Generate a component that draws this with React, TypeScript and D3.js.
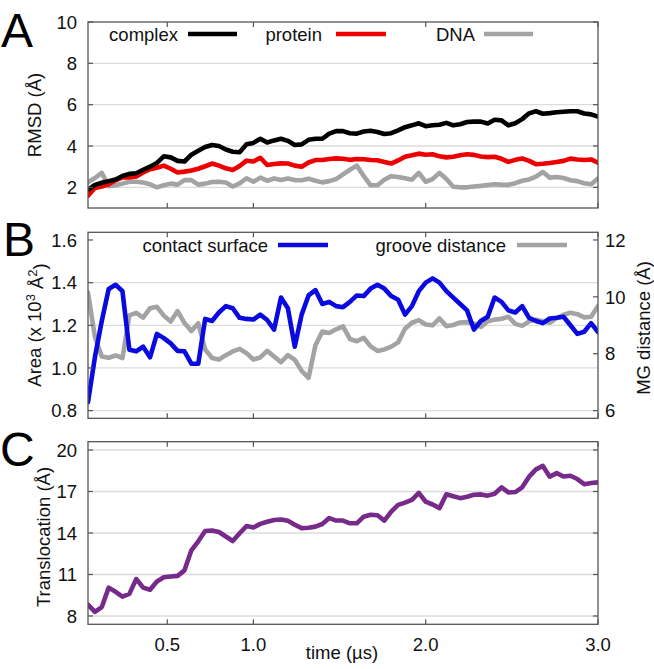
import React from 'react';
import * as d3 from 'd3';

const times = [0.04,0.08,0.12,0.16,0.20,0.24,0.28,0.32,0.36,0.40,0.44,0.48,0.52,0.56,0.60,0.64,0.68,0.72,0.76,0.80,0.84,0.88,0.92,0.96,1.00,1.04,1.08,1.12,1.16,1.20,1.24,1.28,1.32,1.36,1.40,1.44,1.48,1.52,1.56,1.60,1.64,1.68,1.72,1.76,1.80,1.84,1.88,1.92,1.96,2.00,2.04,2.08,2.12,2.16,2.20,2.24,2.28,2.32,2.36,2.40,2.44,2.48,2.52,2.56,2.60,2.64,2.68,2.72,2.76,2.80,2.84,2.88,2.92,2.96,3.00];

const complexRmsd = [1.88,2.12,2.22,2.30,2.38,2.55,2.65,2.68,2.85,3.00,3.18,3.50,3.45,3.28,3.25,3.58,3.77,3.95,4.05,4.00,3.83,3.72,3.70,4.08,4.15,4.35,4.17,4.27,4.35,4.25,4.05,4.08,4.30,4.35,4.35,4.60,4.72,4.72,
  4.62,4.60,4.70,4.74,4.68,4.58,4.62,4.76,4.91,5.00,5.10,4.96,5.00,5.03,5.12,5.00,5.05,5.16,5.18,5.18,5.09,5.27,5.24,5.00,5.10,5.30,5.58,5.68,5.56,5.59,5.63,5.66,5.68,5.68,5.57,5.53,5.42];
const proteinRmsd = [1.60,1.97,2.04,2.15,2.34,2.48,2.48,2.52,2.72,2.88,2.95,3.05,2.90,2.72,2.76,2.81,2.90,3.02,3.15,3.05,2.92,2.84,3.03,3.29,3.25,3.43,3.08,3.13,3.16,3.15,3.05,3.00,3.20,3.32,3.32,3.37,3.40,3.38,
  3.33,3.37,3.36,3.32,3.31,3.23,3.15,3.30,3.48,3.55,3.63,3.58,3.60,3.50,3.45,3.48,3.55,3.60,3.57,3.49,3.46,3.48,3.38,3.23,3.33,3.40,3.28,3.12,3.14,3.18,3.23,3.28,3.39,3.35,3.32,3.35,3.19];
const dnaRmsd = [2.25,2.45,2.70,2.05,2.10,2.18,2.27,2.27,2.23,2.15,2.00,2.10,2.18,2.13,2.35,2.35,2.13,2.18,2.26,2.27,2.23,2.04,2.19,2.44,2.27,2.47,2.32,2.43,2.36,2.43,2.35,2.34,2.42,2.32,2.24,2.30,2.40,2.63,
  2.85,3.05,2.55,2.10,2.10,2.37,2.54,2.50,2.44,2.37,2.70,2.27,2.40,2.70,2.40,2.03,2.00,2.00,2.04,2.07,2.11,2.15,2.13,2.12,2.20,2.32,2.38,2.52,2.74,2.47,2.50,2.45,2.34,2.30,2.20,2.15,2.42];

const contactSurface = [0.84,1.05,1.22,1.37,1.39,1.36,1.085,1.078,1.10,1.05,1.16,1.14,1.115,1.08,1.078,1.02,1.02,1.23,1.22,1.26,1.29,1.28,1.235,1.23,1.227,1.25,1.225,1.18,1.33,1.28,1.10,1.25,1.34,1.365,1.30,1.31,1.29,1.285,
  1.31,1.34,1.337,1.372,1.39,1.372,1.337,1.32,1.25,1.29,1.36,1.40,1.42,1.40,1.36,1.33,1.30,1.27,1.18,1.22,1.24,1.33,1.31,1.27,1.26,1.29,1.235,1.22,1.21,1.232,1.235,1.24,1.20,1.16,1.17,1.21,1.168];
const grooveDistance = [10.15,8.60,7.90,7.86,7.94,7.85,9.35,9.44,9.27,9.60,9.65,9.34,9.13,9.50,9.08,8.80,9.07,8.15,7.85,7.80,7.95,8.08,8.17,8.02,7.80,7.87,8.10,7.90,7.70,7.95,7.79,7.40,7.15,8.30,8.78,8.73,8.86,8.96,
  8.52,8.44,8.56,8.26,8.10,8.15,8.25,8.40,8.88,9.09,9.18,9.03,9.00,9.24,8.97,9.01,9.10,9.11,9.06,8.94,9.14,9.20,9.23,9.30,9.05,8.98,9.14,9.20,9.14,9.09,9.25,9.37,9.44,9.39,9.28,9.30,9.68];

const translocation = [8.82,8.30,8.65,10.05,9.75,9.40,9.60,10.67,10.05,9.90,10.50,10.80,10.86,10.90,11.30,12.75,13.40,14.14,14.18,14.07,13.75,13.42,13.98,14.50,14.40,14.66,14.81,14.94,14.98,14.88,14.60,14.35,14.38,14.46,14.65,15.08,14.90,14.90,
  14.70,14.70,15.18,15.32,15.28,14.90,15.55,16.03,16.20,16.40,16.90,16.26,16.06,15.80,16.80,16.66,16.52,16.62,16.76,16.79,16.70,16.84,17.30,16.93,16.96,17.30,18.07,18.60,18.85,18.07,18.33,18.08,18.14,17.90,17.53,17.61,17.66];

const xTicks = [0.5, 1.0, 2.0, 3.0];
const rmsdTicks = [2, 4, 6, 8, 10];
const areaTicks = [0.8, 1.0, 1.2, 1.4, 1.6];
const mgTicks = [6, 8, 10, 12];
const transTicks = [8, 11, 14, 17, 20];

const FONT = '"Liberation Sans", Arial, Helvetica, sans-serif';
const FS = 18.5;
const L = 88, R = 598;
const BORDER = '#555';
const GRID = '#dcdcdc';
const SW = 4.6;

const x = d3.scaleLinear().domain([0.04, 3.0]).range([L, R]);

type PanelProps = {
  top: number; bottom: number; id: string;
  y: d3.ScaleLinear<number, number>;
  ticks: number[]; fmt: (v: number) => string;
  grid: number[];
  y2?: d3.ScaleLinear<number, number>; ticks2?: number[];
  children?: React.ReactNode;
};

function Panel({ top, bottom, id, y, ticks, fmt, grid, y2, ticks2, children }: PanelProps) {
  const tl = 5;
  return (
    <g>
      <defs>
        <clipPath id={id}><rect x={L} y={top} width={R - L} height={bottom - top} /></clipPath>
      </defs>
      {grid.map((v) => (
        <line key={'g' + v} x1={L} x2={R} y1={y(v)} y2={y(v)} stroke={GRID} strokeWidth={1.3} />
      ))}
      <g clipPath={`url(#${id})`}>{children}</g>
      <rect x={L} y={top} width={R - L} height={bottom - top} fill="none" stroke={BORDER} strokeWidth={1.3} />
      {ticks.map((v) => (
        <g key={'t' + v}>
          <line x1={L} x2={L + tl} y1={y(v)} y2={y(v)} stroke={BORDER} strokeWidth={1.2} />
          {!y2 && <line x1={R} x2={R - tl} y1={y(v)} y2={y(v)} stroke={BORDER} strokeWidth={1.2} />}
          <text x={77} y={y(v)} dy="0.36em" textAnchor="end" fontSize={FS} fill="#111">{fmt(v)}</text>
        </g>
      ))}
      {y2 && ticks2 && ticks2.map((v) => (
        <g key={'r' + v}>
          <line x1={R} x2={R - tl} y1={y2(v)} y2={y2(v)} stroke={BORDER} strokeWidth={1.2} />
          <text x={605} y={y2(v)} dy="0.36em" textAnchor="start" fontSize={FS} fill="#111">{String(v)}</text>
        </g>
      ))}
      {xTicks.map((v) => (
        <g key={'x' + v}>
          <line x1={x(v)} x2={x(v)} y1={top} y2={top + tl} stroke={BORDER} strokeWidth={1.2} />
          <line x1={x(v)} x2={x(v)} y1={bottom} y2={bottom - tl} stroke={BORDER} strokeWidth={1.2} />
        </g>
      ))}
    </g>
  );
}

function path(vals: number[], y: d3.ScaleLinear<number, number>) {
  const gen = d3.line<number>().x((_, i) => x(times[i])).y((v) => y(v));
  return gen(vals) || '';
}

function Series({ vals, y, color }: { vals: number[]; y: d3.ScaleLinear<number, number>; color: string }) {
  return <path d={path(vals, y)} fill="none" stroke={color} strokeWidth={SW} strokeLinejoin="round" strokeLinecap="round" />;
}

function LegendItem({ label, xEnd, x1, x2, y, color }: { label: string; xEnd: number; x1: number; x2: number; y: number; color: string }) {
  return (
    <g>
      <text x={xEnd} y={y + 6.5} textAnchor="end" fontSize={FS} fill="#111">{label}</text>
      <line x1={x1} x2={x2} y1={y} y2={y} stroke={color} strokeWidth={SW} />
    </g>
  );
}

export default function App() {
  const yA = d3.scaleLinear().domain([1, 10]).range([208, 22]);
  const yB = d3.scaleLinear().domain([0.764, 1.636]).range([418.3, 232.3]);
  const yB2 = d3.scaleLinear().domain([5.73, 12.27]).range([418.3, 232.3]);
  const yC = d3.scaleLinear().domain([7.4, 20.6]).range([624.3, 441.7]);
  const f1 = d3.format('.1f');

  return (
    <svg width={654} height={669} style={{ position: 'absolute', left: 0, top: 0, background: '#fff' }} fontFamily={FONT}>
      <rect x={0} y={0} width={654} height={669} fill="#fff" />

      {/* Panel A */}
      <Panel id="clipA" top={22} bottom={208} y={yA} ticks={rmsdTicks} fmt={(v) => String(v)} grid={[2, 4, 6, 8]}>
        <Series vals={dnaRmsd} y={yA} color="#a3a3a3" />
        <Series vals={proteinRmsd} y={yA} color="#ee0000" />
        <Series vals={complexRmsd} y={yA} color="#000000" />
      </Panel>
      <LegendItem label="complex" xEnd={178} x1={188} x2={237} y={34} color="#000" />
      <LegendItem label="protein" xEnd={322} x1={336} x2={386} y={34} color="#ee0000" />
      <LegendItem label="DNA" xEnd={475} x1={484} x2={533} y={34} color="#a3a3a3" />
      <text x={34} y={115} transform="rotate(-90 34 115)" textAnchor="middle" dy="0.36em" fontSize={FS} fill="#111">RMSD (Å)</text>
      <text x={1} y={47} fontSize={48} fill="#000">A</text>

      {/* Panel B */}
      <Panel id="clipB" top={232.3} bottom={418.3} y={yB} ticks={areaTicks} fmt={f1} grid={[0.8, 1.0, 1.2, 1.4]} y2={yB2} ticks2={mgTicks}>
        <Series vals={grooveDistance} y={yB2} color="#a3a3a3" />
        <Series vals={contactSurface} y={yB} color="#0a0ae0" />
      </Panel>
      <LegendItem label="contact surface" xEnd={268} x1={278} x2={328} y={245} color="#0a0ae0" />
      <LegendItem label="groove distance" xEnd={506} x1={517} x2={567} y={245} color="#a3a3a3" />
      <text x={34} y={325} transform="rotate(-90 34 325)" textAnchor="middle" dy="0.36em" fontSize={FS} fill="#111">
        Area (x 10<tspan dy="-0.45em" fontSize={FS * 0.7}>3</tspan><tspan dy="0.45em"> Å</tspan><tspan dy="-0.45em" fontSize={FS * 0.7}>2</tspan><tspan dy="0.45em">)</tspan>
      </text>
      <text x={643} y={328} transform="rotate(-90 643 328)" textAnchor="middle" dy="0.36em" fontSize={FS} fill="#111">MG distance (Å)</text>
      <text x={3} y={256} fontSize={48} fill="#000">B</text>

      {/* Panel C */}
      <Panel id="clipC" top={441.7} bottom={624.3} y={yC} ticks={transTicks} fmt={(v) => String(v)} grid={[8, 11, 14, 17, 20]}>
        <Series vals={translocation} y={yC} color="#762a8a" />
      </Panel>
      <text x={43} y={537} transform="rotate(-90 43 537)" textAnchor="middle" dy="0.36em" fontSize={FS} fill="#111">Translocation (Å)</text>
      <text x={0} y={466} fontSize={48} fill="#000">C</text>

      {xTicks.map((v) => (
        <text key={'xl' + v} x={x(v)} y={651} textAnchor="middle" fontSize={FS} fill="#111">{f1(v)}</text>
      ))}
      <text x={342} y={659} textAnchor="middle" fontSize={FS} fill="#111">time (µs)</text>
    </svg>
  );
}
